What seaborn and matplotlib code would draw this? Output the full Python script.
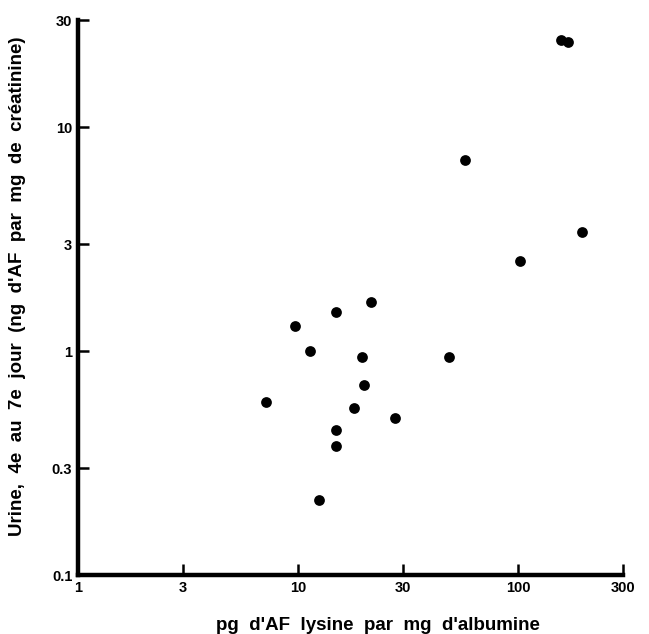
import seaborn as sns
import matplotlib.pyplot as plt
import pandas as pd

# Values (log-log axes)
albumine = [7.15, 9.7, 11.3, 14.9, 14.9, 14.9, 12.5, 19.5, 19.9, 18.0,
            21.5, 27.6, 48.6, 57.4, 102, 195, 157, 169]
urine = [0.59, 1.29, 1.0, 1.49, 0.444, 0.377, 0.216, 0.94, 0.705, 0.557,
         1.65, 0.503, 0.94, 7.1, 2.52, 3.4, 24.4, 23.9]

x_ticks = [1, 3, 10, 30, 100, 300]
x_labels = ["1", "3", "10", "30", "100", "300"]
y_ticks = [0.1, 0.3, 1, 3, 10, 30]
y_labels = ["0.1", "0.3", "1", "3", "10", "30"]

df = pd.DataFrame({"albumine": albumine, "urine": urine})

sns.set_style("white")
plt.rcParams["font.family"] = ["Liberation Sans", "DejaVu Sans"]
plt.rcParams["text.color"] = "black"
plt.rcParams["axes.labelcolor"] = "black"
plt.rcParams["xtick.color"] = "black"
plt.rcParams["ytick.color"] = "black"

fig = plt.figure(figsize=(6.49, 6.34), dpi=100)
ax = fig.add_axes([0.120, 0.093, 0.840, 0.875])

sns.scatterplot(data=df, x="albumine", y="urine", color="black", s=60,
                edgecolor="black", linewidth=0, ax=ax)

ax.set_xscale("log")
ax.set_yscale("log")
ax.set_xlim(1, 300)
ax.set_ylim(0.1, 30)
ax.set_xticks(x_ticks)
ax.set_xticklabels(x_labels)
ax.set_yticks(y_ticks)
ax.set_yticklabels(y_labels)
ax.minorticks_off()

for side in ["top", "right"]:
    ax.spines[side].set_visible(False)
for side in ["left", "bottom"]:
    ax.spines[side].set_linewidth(3.2)
    ax.spines[side].set_color("black")

ax.tick_params(axis="both", direction="in", length=8, width=1.8, color="black",
               labelsize=10.5, pad=4, bottom=True, left=True,
               labelcolor="black")
for lab in ax.get_xticklabels() + ax.get_yticklabels():
    lab.set_fontweight("bold")

ax.set_xlabel("pg  d'AF  lysine  par  mg  d'albumine", fontsize=13.5,
              fontweight="bold", labelpad=13, color="black")
ax.xaxis.set_label_coords(0.55, -0.075)
ax.set_ylabel("Urine,  4e  au  7e  jour  (ng  d'AF  par  mg  de  créatinine)",
              fontsize=13.5, fontweight="bold", color="black")
ax.yaxis.set_label_coords(-0.095, 0.52)

plt.savefig("out.png", dpi=100)
